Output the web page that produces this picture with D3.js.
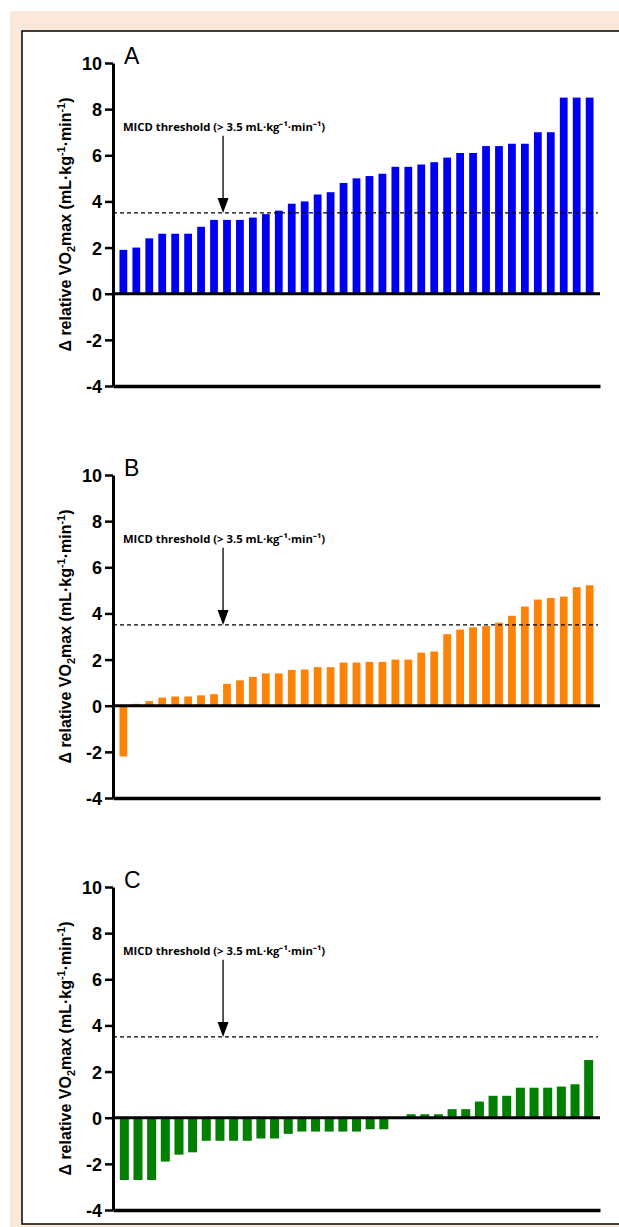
<!DOCTYPE html>
<html>
<head>
<meta charset="utf-8">
<script src="https://cdn.jsdelivr.net/npm/d3@7"></script>
<style>
  html, body { margin: 0; padding: 0; background: #fff; }
  svg { display: block; }
  .tick text { font-family: Arial, "Liberation Sans", sans-serif; font-weight: bold; font-size: 18px; fill: #000; }
</style>
</head>
<body>
<svg id="chart" width="619" height="1227"></svg>
<script>
// sorted change in relative VO2max per participant, one array per panel
const valuesA = [1.9, 2.0, 2.4, 2.6, 2.6, 2.6, 2.9, 3.2, 3.2, 3.2, 3.3, 3.45, 3.6, 3.9, 4.0, 4.3, 4.4, 4.8, 5.0,
  5.1, 5.2, 5.5, 5.5, 5.6, 5.7, 5.9, 6.1, 6.1, 6.4, 6.4, 6.5, 6.5, 7.0, 7.0, 8.5, 8.5, 8.5];
const valuesB = [-2.2, 0.08, 0.2, 0.35, 0.4, 0.4, 0.45, 0.5, 0.95, 1.1, 1.25, 1.4, 1.4, 1.55, 1.57, 1.67, 1.67, 1.87, 1.87,
  1.9, 1.9, 2.0, 2.0, 2.3, 2.35, 3.1, 3.3, 3.4, 3.45, 3.6, 3.9, 4.3, 4.6, 4.67, 4.73, 5.14, 5.22];
const valuesC = [-2.7, -2.7, -2.7, -1.9, -1.6, -1.5, -1.0, -1.0, -1.0, -1.0, -0.9, -0.9, -0.7, -0.6, -0.6, -0.6, -0.6,
  -0.6, -0.5, -0.5, 0, 0.15, 0.15, 0.15, 0.37, 0.37, 0.7, 0.95, 0.95, 1.3, 1.3, 1.3, 1.35, 1.45, 2.5];
const panelLetters = ["A", "B", "C"];
const panelColors = ["#0000f0", "#fd8208", "#017f01"];
const yTicks = [-4, -2, 0, 2, 4, 6, 8, 10];
const threshold = 3.5;
const annotationText = "MICD threshold (> 3.5 mL·kg⁻¹·min⁻¹)";

const panels = [valuesA, valuesB, valuesC];

const svg = d3.select("#chart");

// page frame
svg.append("rect").attr("x", 10).attr("y", 11).attr("width", 609).attr("height", 1216).attr("fill", "#fbe8da");
svg.append("rect").attr("x", 22).attr("y", 31).attr("width", 602).attr("height", 1193)
  .attr("fill", "#fff").attr("stroke", "#000").attr("stroke-width", 1.5);

const xLeft = 113, xRight = 600;

function drawPanel(values, i) {
  const top = 63 + i * 412;
  const g = svg.append("g");

  const y = d3.scaleLinear().domain([-4, 10]).range([top + 323, top]);
  const x = d3.scaleBand()
    .domain(d3.range(values.length))
    .range([xLeft, xRight])
    .paddingInner(values.length > 36 ? 0.4 : 0.34)
    .paddingOuter(0.5);
  const xFrac = d3.scaleLinear().domain([0, 1]).range([xLeft, xRight]);

  // bars
  g.append("g")
    .selectAll("rect")
    .data(values)
    .join("rect")
    .attr("x", (d, j) => x(j))
    .attr("width", x.bandwidth())
    .attr("y", (d) => y(Math.max(0, d)))
    .attr("height", (d) => Math.abs(y(d) - y(0)))
    .attr("fill", panelColors[i]);

  // threshold
  g.append("line")
    .attr("x1", xLeft).attr("x2", xRight - 2)
    .attr("y1", y(threshold)).attr("y2", y(threshold))
    .attr("stroke", "#000").attr("stroke-width", 1.3)
    .attr("stroke-dasharray", "4,3");

  // zero line
  g.append("line")
    .attr("x1", xLeft).attr("x2", xRight)
    .attr("y1", y(0)).attr("y2", y(0))
    .attr("stroke", "#000").attr("stroke-width", 3);

  // x axis (no ticks)
  g.append("g")
    .attr("transform", `translate(0,${y(-4)})`)
    .call(d3.axisBottom(d3.scaleLinear().range([xLeft, xRight])).tickValues([]).tickSizeOuter(0))
    .call((a) => a.select(".domain").attr("stroke-width", 3.5));

  // y axis
  g.append("g")
    .attr("transform", `translate(${xLeft},0)`)
    .call(d3.axisLeft(y).tickValues(yTicks).tickSize(8).tickSizeOuter(0).tickPadding(3)
      .tickFormat((d) => String(d)))
    .call((a) => a.select(".domain").attr("stroke-width", 3))
    .call((a) => a.selectAll(".tick line").attr("stroke-width", 2.5))
    .call((a) => a.selectAll(".tick text").attr("dy", "0.36em"));

  // panel letter
  g.append("text")
    .attr("x", xLeft + 11).attr("y", y(10) + 1)
    .attr("font-family", "Arial, 'Liberation Sans', sans-serif")
    .attr("font-size", 23)
    .text(panelLetters[i]);

  // annotation + arrow
  const ax = xFrac(0.226);
  g.append("text")
    .attr("x", xLeft + 10).attr("y", y(7.05))
    .attr("font-family", "'Open Sans', sans-serif")
    .attr("font-weight", 700)
    .attr("font-size", 11.2)
    .attr("textLength", 202)
    .attr("lengthAdjust", "spacingAndGlyphs")
    .text(annotationText);
  g.append("line")
    .attr("x1", ax).attr("x2", ax)
    .attr("y1", y(6.85)).attr("y2", y(threshold) - 12)
    .attr("stroke", "#000").attr("stroke-width", 1.3);
  g.append("path")
    .attr("d", `M${ax - 5.5},${y(threshold) - 15}L${ax + 5.5},${y(threshold) - 15}L${ax},${y(threshold)}Z`)
    .attr("fill", "#000");

  // y title
  const mid = (y(10) + y(-4)) / 2;
  const title = g.append("text")
    .attr("transform", `translate(71,${mid}) rotate(-90)`)
    .attr("text-anchor", "middle")
    .attr("font-family", "Arial, 'Liberation Sans', sans-serif")
    .attr("font-weight", "bold")
    .attr("font-size", 16);
  title.append("tspan").text("Δ relative VO");
  title.append("tspan").attr("font-size", 11).attr("dy", 4).text("2");
  title.append("tspan").attr("dy", -4).text("max (mL·kg");
  title.append("tspan").attr("font-size", 11).attr("dy", -6).text("-1");
  title.append("tspan").attr("dy", 6).text("·min");
  title.append("tspan").attr("font-size", 11).attr("dy", -6).text("-1");
  title.append("tspan").attr("dy", 6).text(")");
}

panels.forEach(drawPanel);
</script>
</body>
</html>
